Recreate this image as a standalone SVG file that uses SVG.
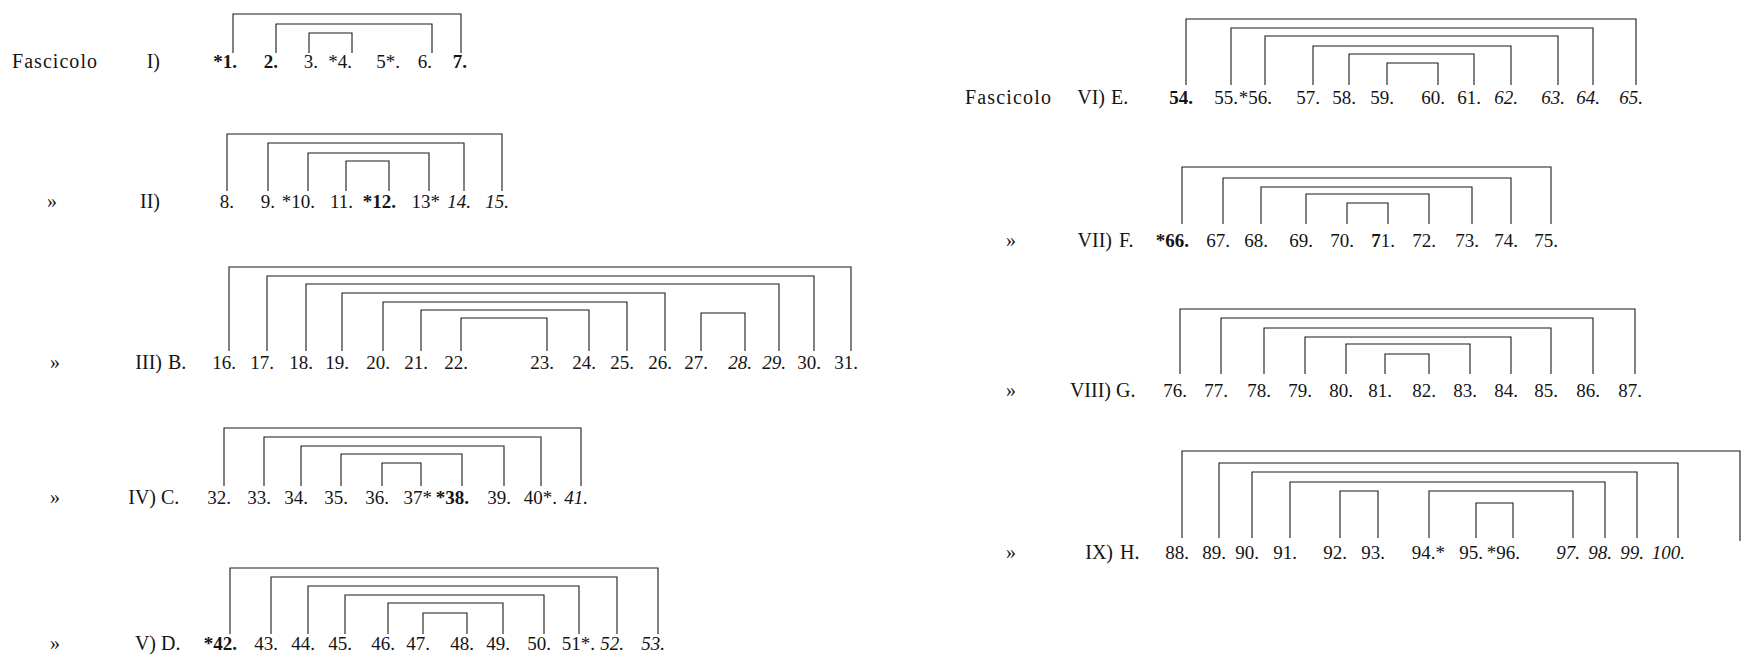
<svg xmlns="http://www.w3.org/2000/svg" width="1745" height="663" viewBox="0 0 1745 663">
<style>
text{font-family:"Liberation Serif","Times New Roman",serif;font-size:19px;fill:#141414}
.n{text-anchor:end}
.e{text-anchor:end;font-size:20px}
.l{font-size:20px}
.b{font-weight:bold}
.i{font-style:italic}
.br{fill:none;stroke:#1a1a1a;stroke-width:1.1}
</style>
<rect width="1745" height="663" fill="#fff"/>
<g id="connectors">
<path class="br" d="M233 53V14H461V53M276 53V24H432V53M309 53V33H352V53"/>
<path class="br" d="M227 191V134H502V191M268 191V143H464V191M308 191V153H429V191M346 191V161H389V191"/>
<path class="br" d="M229 351V267H851V351M267 351V276H814V351M306 351V284H779V351M342 351V293H665V351M383 351V302H627V351M421 351V310H589V351M461 351V318H547V351M701 351V313H745V351"/>
<path class="br" d="M224 486V428H581V486M264 486V437H541V486M301 486V446H504V486M341 486V454H462V486M382 486V463H421V486"/>
<path class="br" d="M230 634V568H658V634M271 634V577H617V634M308 634V586H579V634M345 634V595H544V634M388 634V603H503V634M423 634V613H467V634"/>
<path class="br" d="M1186 85V19H1636V85M1231 85V28H1593V85M1265 85V36H1558V85M1313 85V46H1511V85M1349 85V54H1474V85M1387 85V63H1438V85"/>
<path class="br" d="M1182 224V167H1551V224M1223 224V178H1511V224M1261 224V187H1472V224M1306 224V194H1429V224M1347 224V203H1388V224"/>
<path class="br" d="M1180 374V309H1635V374M1221 374V318H1593V374M1264 374V328H1551V374M1305 374V337H1511V374M1346 374V344H1470V374M1385 374V354H1429V374"/>
<path class="br" d="M1182 538V451H1740V541M1219 538V463H1678V538M1252 538V472H1637V538M1290 538V482H1605V538M1340 538V491H1378V538M1429 538V491H1573V538M1476 538V503H1513V538"/>
</g>
<g id="fascicolo-I">
<text class="l" x="12" y="68" textLength="85">Fascicolo</text>
<text class="e" x="160" y="68">I)</text>
<text class="n b" x="237" y="68">*1.</text>
<text class="n b" x="278" y="68">2.</text>
<text class="n" x="318" y="68">3.</text>
<text class="n" x="352" y="68">*4.</text>
<text class="n" x="400" y="68">5*.</text>
<text class="n" x="432" y="68">6.</text>
<text class="n b" x="467" y="68">7.</text>
</g>
<g id="fascicolo-II">
<text class="l" x="47" y="208">»</text>
<text class="e" x="160" y="208">II)</text>
<text class="n" x="234" y="208">8.</text>
<text class="n" x="275" y="208">9.</text>
<text class="n" x="315" y="208">*10.</text>
<text class="n" x="353" y="208">11.</text>
<text class="n b" x="396" y="208">*12.</text>
<text class="n" x="440" y="208">13*</text>
<text class="n i" x="471" y="208">14.</text>
<text class="n i" x="509" y="208">15.</text>
</g>
<g id="fascicolo-III">
<text class="l" x="50" y="369">»</text>
<text class="e" x="162" y="369">III)</text>
<text class="l" x="168" y="369">B.</text>
<text class="n" x="236" y="369">16.</text>
<text class="n" x="274" y="369">17.</text>
<text class="n" x="313" y="369">18.</text>
<text class="n" x="349" y="369">19.</text>
<text class="n" x="390" y="369">20.</text>
<text class="n" x="428" y="369">21.</text>
<text class="n" x="468" y="369">22.</text>
<text class="n" x="554" y="369">23.</text>
<text class="n" x="596" y="369">24.</text>
<text class="n" x="634" y="369">25.</text>
<text class="n" x="672" y="369">26.</text>
<text class="n" x="708" y="369">27.</text>
<text class="n i" x="752" y="369">28.</text>
<text class="n i" x="786" y="369">29.</text>
<text class="n" x="821" y="369">30.</text>
<text class="n" x="858" y="369">31.</text>
</g>
<g id="fascicolo-IV">
<text class="l" x="50" y="504">»</text>
<text class="e" x="156" y="504">IV)</text>
<text class="l" x="161" y="504">C.</text>
<text class="n" x="231" y="504">32.</text>
<text class="n" x="271" y="504">33.</text>
<text class="n" x="308" y="504">34.</text>
<text class="n" x="348" y="504">35.</text>
<text class="n" x="389" y="504">36.</text>
<text class="n" x="432" y="504">37*</text>
<text class="n b" x="469" y="504">*38.</text>
<text class="n" x="511" y="504">39.</text>
<text class="n" x="557" y="504">40*.</text>
<text class="n i" x="588" y="504">41.</text>
</g>
<g id="fascicolo-V">
<text class="l" x="50" y="650">»</text>
<text class="e" x="156" y="650">V)</text>
<text class="l" x="161" y="650">D.</text>
<text class="n b" x="237" y="650">*42.</text>
<text class="n" x="278" y="650">43.</text>
<text class="n" x="315" y="650">44.</text>
<text class="n" x="352" y="650">45.</text>
<text class="n" x="395" y="650">46.</text>
<text class="n" x="430" y="650">47.</text>
<text class="n" x="474" y="650">48.</text>
<text class="n" x="510" y="650">49.</text>
<text class="n" x="551" y="650">50.</text>
<text class="n" x="595" y="650">51*.</text>
<text class="n i" x="624" y="650">52.</text>
<text class="n i" x="665" y="650">53.</text>
</g>
<g id="fascicolo-VI">
<text class="l" x="965" y="104" textLength="86">Fascicolo</text>
<text class="e" x="1105" y="104">VI)</text>
<text class="l" x="1111" y="104">E.</text>
<text class="n b" x="1193" y="104">54.</text>
<text class="n" x="1238" y="104">55.</text>
<text class="n" x="1272" y="104">*56.</text>
<text class="n" x="1320" y="104">57.</text>
<text class="n" x="1356" y="104">58.</text>
<text class="n" x="1394" y="104">59.</text>
<text class="n" x="1445" y="104">60.</text>
<text class="n" x="1481" y="104">61.</text>
<text class="n i" x="1518" y="104">62.</text>
<text class="n i" x="1565" y="104">63.</text>
<text class="n i" x="1600" y="104">64.</text>
<text class="n i" x="1643" y="104">65.</text>
</g>
<g id="fascicolo-VII">
<text class="l" x="1006" y="247">»</text>
<text class="e" x="1112" y="247">VII)</text>
<text class="l" x="1119" y="247">F.</text>
<text class="n b" x="1189" y="247">*66.</text>
<text class="n" x="1230" y="247">67.</text>
<text class="n" x="1268" y="247">68.</text>
<text class="n" x="1313" y="247">69.</text>
<text class="n" x="1354" y="247">70.</text>
<text class="n" x="1395" y="247"><tspan class="b">7</tspan>1.</text>
<text class="n" x="1436" y="247">72.</text>
<text class="n" x="1479" y="247">73.</text>
<text class="n" x="1518" y="247">74.</text>
<text class="n" x="1558" y="247">75.</text>
</g>
<g id="fascicolo-VIII">
<text class="l" x="1006" y="397">»</text>
<text class="e" x="1111" y="397">VIII)</text>
<text class="l" x="1116" y="397">G.</text>
<text class="n" x="1187" y="397">76.</text>
<text class="n" x="1228" y="397">77.</text>
<text class="n" x="1271" y="397">78.</text>
<text class="n" x="1312" y="397">79.</text>
<text class="n" x="1353" y="397">80.</text>
<text class="n" x="1392" y="397">81.</text>
<text class="n" x="1436" y="397">82.</text>
<text class="n" x="1477" y="397">83.</text>
<text class="n" x="1518" y="397">84.</text>
<text class="n" x="1558" y="397">85.</text>
<text class="n" x="1600" y="397">86.</text>
<text class="n" x="1642" y="397">87.</text>
</g>
<g id="fascicolo-IX">
<text class="l" x="1006" y="559">»</text>
<text class="e" x="1113" y="559">IX)</text>
<text class="l" x="1120" y="559">H.</text>
<text class="n" x="1189" y="559">88.</text>
<text class="n" x="1226" y="559">89.</text>
<text class="n" x="1259" y="559">90.</text>
<text class="n" x="1297" y="559">91.</text>
<text class="n" x="1347" y="559">92.</text>
<text class="n" x="1385" y="559">93.</text>
<text class="n" x="1445" y="559">94.*</text>
<text class="n" x="1483" y="559">95.</text>
<text class="n" x="1520" y="559">*96.</text>
<text class="n i" x="1580" y="559">97.</text>
<text class="n i" x="1612" y="559">98.</text>
<text class="n i" x="1644" y="559">99.</text>
<text class="n i" x="1685" y="559">100.</text>
</g>
</svg>
